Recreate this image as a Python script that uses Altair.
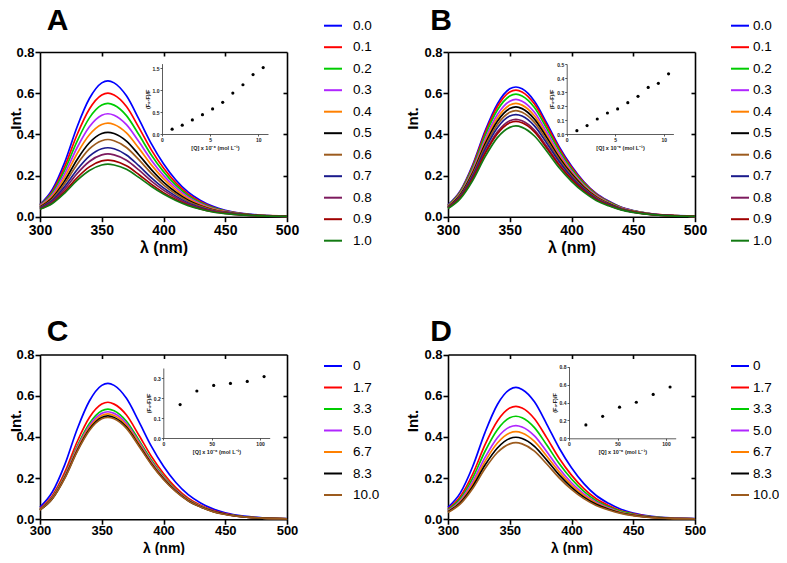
import altair as alt
import pandas as pd

# ---------------- data ----------------
WL = [300, 310, 320, 330, 340, 350, 355, 360, 370, 380, 390, 400, 410, 420, 430, 440, 450, 465, 480, 500]

AB_LABELS = ["0.0", "0.1", "0.2", "0.3", "0.4", "0.5", "0.6", "0.7", "0.8", "0.9", "1.0"]
CD_LABELS = ["0", "1.7", "3.3", "5.0", "6.7", "8.3", "10.0"]

COLORS = ["#0000FF", "#FF0000", "#00CC00", "#B026FF", "#FF8000", "#000000",
          "#9C5B1E", "#1A1A8C", "#7D1A5E", "#A00000", "#127A12"]

A_SPECTRA = [
    [.059, .132, .264, .436, .574, .650, .660, .650, .587, .475, .356, .257, .178, .119, .079, .050, .031, .015, .007, .003],
    [.057, .123, .243, .398, .523, .591, .600, .591, .535, .434, .326, .236, .164, .110, .073, .046, .029, .014, .006, .003],
    [.055, .116, .226, .366, .480, .542, .550, .542, .491, .399, .301, .219, .153, .102, .068, .043, .027, .013, .006, .002],
    [.053, .108, .208, .335, .437, .493, .500, .493, .447, .365, .276, .201, .141, .095, .063, .040, .026, .012, .006, .002],
    [.050, .100, .191, .306, .398, .448, .455, .448, .407, .333, .253, .185, .130, .087, .058, .037, .024, .011, .005, .002],
    [.047, .092, .174, .277, .359, .404, .410, .404, .367, .301, .230, .168, .119, .080, .053, .034, .022, .011, .005, .002],
    [.045, .086, .161, .254, .329, .369, .375, .369, .336, .277, .212, .155, .110, .074, .050, .032, .021, .010, .005, .002],
    [.042, .079, .146, .228, .294, .330, .335, .330, .300, .248, .190, .140, .100, .067, .045, .029, .019, .009, .004, .002],
    [.040, .073, .134, .209, .268, .300, .305, .300, .274, .227, .174, .129, .092, .062, .041, .027, .018, .009, .004, .002],
    [.037, .067, .122, .189, .242, .271, .275, .271, .247, .205, .158, .117, .084, .057, .038, .024, .016, .008, .004, .002],
    [.036, .064, .115, .176, .224, .251, .255, .251, .230, .191, .148, .110, .079, .054, .036, .023, .015, .008, .004, .002],
]

B_SPECTRA = [
    [.057, .126, .252, .416, .548, .621, .630, .621, .561, .454, .340, .246, .170, .113, .076, .047, .030, .014, .006, .003],
    [.055, .123, .246, .406, .535, .606, .615, .606, .547, .443, .332, .240, .166, .111, .074, .046, .029, .014, .006, .002],
    [.054, .119, .238, .393, .518, .586, .595, .586, .530, .428, .321, .232, .161, .107, .071, .045, .028, .013, .006, .002],
    [.051, .114, .228, .376, .496, .561, .570, .561, .507, .410, .308, .222, .154, .103, .068, .043, .027, .013, .006, .002],
    [.050, .110, .220, .363, .479, .542, .550, .542, .490, .396, .297, .215, .149, .099, .066, .041, .026, .012, .006, .002],
    [.048, .107, .213, .352, .464, .525, .533, .525, .474, .384, .288, .208, .144, .096, .064, .040, .025, .012, .005, .002],
    [.046, .103, .206, .340, .448, .507, .515, .507, .458, .371, .278, .201, .139, .093, .062, .039, .024, .011, .005, .002],
    [.045, .099, .198, .327, .432, .489, .496, .489, .441, .357, .268, .193, .134, .089, .060, .037, .023, .011, .005, .002],
    [.043, .095, .189, .312, .412, .466, .473, .466, .421, .341, .255, .184, .128, .085, .057, .035, .022, .010, .005, .002],
    [.042, .093, .185, .306, .403, .456, .463, .456, .412, .333, .250, .181, .125, .083, .056, .035, .022, .010, .005, .002],
    [.040, .088, .176, .291, .384, .434, .441, .434, .392, .318, .238, .172, .119, .079, .053, .033, .021, .010, .004, .002],
]

C_SPECTRA = [
    [.059, .132, .264, .436, .574, .650, .660, .650, .587, .475, .356, .257, .178, .119, .079, .050, .031, .015, .007, .003],
    [.051, .114, .227, .375, .494, .559, .568, .559, .506, .409, .307, .222, .153, .102, .068, .043, .027, .012, .006, .002],
    [.048, .107, .214, .353, .465, .527, .535, .527, .476, .385, .289, .209, .144, .096, .064, .040, .025, .012, .005, .002],
    [.047, .104, .209, .345, .454, .514, .522, .514, .465, .376, .282, .204, .141, .094, .063, .039, .025, .011, .005, .002],
    [.046, .102, .205, .338, .445, .504, .512, .504, .456, .369, .276, .200, .138, .092, .061, .038, .024, .011, .005, .002],
    [.045, .100, .201, .331, .437, .494, .502, .494, .447, .361, .271, .196, .136, .090, .060, .038, .024, .011, .005, .002],
    [.045, .099, .198, .327, .431, .488, .495, .488, .441, .356, .267, .193, .134, .089, .059, .037, .023, .011, .005, .002],
]

D_SPECTRA = [
    [.058, .128, .256, .422, .557, .630, .640, .630, .570, .461, .346, .250, .173, .115, .077, .048, .030, .014, .006, .003],
    [.049, .110, .219, .362, .477, .540, .548, .540, .488, .395, .296, .214, .148, .099, .066, .041, .026, .012, .005, .002],
    [.045, .100, .200, .330, .435, .493, .500, .493, .445, .360, .270, .195, .135, .090, .060, .038, .024, .011, .005, .002],
    [.041, .091, .182, .300, .396, .448, .455, .448, .405, .328, .246, .177, .123, .082, .055, .034, .021, .010, .005, .002],
    [.038, .085, .170, .281, .370, .419, .425, .419, .378, .306, .230, .166, .115, .077, .051, .032, .020, .009, .004, .002],
    [.036, .080, .159, .263, .346, .392, .398, .392, .354, .287, .215, .155, .107, .072, .048, .030, .019, .009, .004, .002],
    [.033, .074, .149, .246, .324, .366, .372, .366, .331, .268, .201, .145, .100, .067, .045, .028, .017, .008, .004, .002],
]

# Stern-Volmer insets
AB_Q = [1.05, 2.1, 3.15, 4.2, 5.25, 6.3, 7.35, 8.4, 9.45, 10.5]
A_R = [0.11, 0.20, 0.32, 0.44, 0.57, 0.72, 0.93, 1.12, 1.35, 1.51]
B_R = [0.024, 0.06, 0.107, 0.15, 0.179, 0.224, 0.269, 0.333, 0.362, 0.43]
CD_Q = [17.4, 34.7, 52.1, 69.4, 86.8, 104.2]
C_R = [0.167, 0.235, 0.263, 0.273, 0.283, 0.307]
D_R = [0.15, 0.245, 0.348, 0.403, 0.49, 0.573]

# ---------------- layout ----------------
W, H = 771, 547
FONT = "Liberation Sans"


def spectra_df(spectra, labels):
    rows = []
    for k, (lab, vals) in enumerate(zip(labels, spectra)):
        for w, v in zip(WL, vals):
            rows.append({"wl": w, "v": v, "s": lab, "k": k})
    return pd.DataFrame(rows)


MAIN_AX = dict(domainColor="black", domainWidth=1.6, tickColor="black", tickWidth=1.6,
               labelFont=FONT, labelFontWeight="bold", labelColor="black",
               titleFont=FONT, titleFontWeight="bold", titleColor="black",
               grid=False, labelOverlap=False)

INS_AX = dict(domainColor="#333333", domainWidth=0.8, tickColor="#333333", tickWidth=0.8, tickSize=2,
              labelFont=FONT, labelFontSize=5, labelFontWeight="bold", labelColor="#222222", labelPadding=1,
              titleFont=FONT, titleFontSize=5.5, titleFontWeight="bold", titleColor="#222222",
              grid=False, labelOverlap=False, labelFlush=False)


def panel(spectra, labels, box, leg, loff, ytx, xty, xtfs, xlfs, xlpad,
          q, r, ibox, ixdom, iydom, ixt, iyt, iyfmt):
    x0, x1, y0, y1 = box
    df = spectra_df(spectra, labels)
    xs = alt.Scale(domain=[300, 500], range=[x0, x1], nice=False, zero=False)
    ys = alt.Scale(domain=[0, 0.8], range=[y1, y0], nice=False, zero=False)
    lines = alt.Chart(df).mark_line(strokeWidth=1.7, interpolate="monotone").encode(
        x=alt.X("wl:Q", scale=xs,
                axis=alt.Axis(orient="bottom", offset=y1 - H, values=[300, 350, 400, 450, 500],
                              title="λ (nm)", titleFontSize=xtfs, titleBaseline="alphabetic", titleY=xty,
                              labelFontSize=xlfs, labelPadding=xlpad,
                              tickSize=5, labelFlush=False, **MAIN_AX)),
        y=alt.Y("v:Q", scale=ys,
                axis=alt.Axis(orient="left", offset=-x0, values=[0, 0.2, 0.4, 0.6, 0.8], format=".1f",
                              title="Int.", titleFontSize=15, labelFontSize=13, labelPadding=1, tickSize=5,
                              titleX=ytx, titleY=y0 + 66, **MAIN_AX)),
        color=alt.Color("s:N", scale=alt.Scale(domain=labels, range=COLORS[:len(labels)]),
                        legend=alt.Legend(orient="none", legendX=leg[0], legendY=leg[1], title="",
                                          symbolType="stroke", symbolSize=324, symbolStrokeWidth=2,
                                          labelFont=FONT, labelFontSize=13.5, labelColor="black",
                                          labelOffset=loff, rowPadding=4.5, padding=0)),
        detail="k:N",
    )
    frame = alt.Chart(df).mark_point(opacity=0).encode(
        x=alt.X("wl:Q", scale=xs,
                axis=alt.Axis(orient="bottom", offset=y0 - H, values=[350, 400, 450], labels=False,
                              title="", tickSize=4, domainColor="black", domainWidth=1.6,
                              tickColor="black", tickWidth=1.6, grid=False)),
        y=alt.Y("v:Q", scale=ys,
                axis=alt.Axis(orient="left", offset=-x1, values=[0.2, 0.4, 0.6], labels=False,
                              title="", tickSize=4, domainColor="black", domainWidth=1.6,
                              tickColor="black", tickWidth=1.6, grid=False)),
    )
    ix0, ix1, iy0, iy1 = ibox
    idf = pd.DataFrame({"q": q, "r": r})
    inset = alt.Chart(idf).mark_circle(size=10, color="black", opacity=1).encode(
        x=alt.X("q:Q", scale=alt.Scale(domain=ixdom, range=[ix0, ix1], nice=False, zero=False),
                axis=alt.Axis(orient="bottom", offset=iy1 - H, values=ixt,
                              title="[Q] x 10⁻⁶ (mol L⁻¹)", titlePadding=3, **INS_AX)),
        y=alt.Y("r:Q", scale=alt.Scale(domain=iydom, range=[iy1, iy0], nice=False, zero=False),
                axis=alt.Axis(orient="left", offset=-ix0, values=iyt, format=iyfmt,
                              title="(F₀-F)/F", titlePadding=2, **INS_AX)),
    )
    return [lines, frame, inset]


def letter(t, x, y):
    return alt.Chart(pd.DataFrame({"t": [t]})).mark_text(
        font=FONT, fontSize=30, fontWeight="bold", align="center", baseline="alphabetic", color="black"
    ).encode(text="t:N", x=alt.value(x), y=alt.value(y))


layers = []
layers += panel(A_SPECTRA, AB_LABELS, (32, 279, 44, 208.7), (315, 7.7), 10, -17, 36, 16, 14, 2,
                AB_Q, A_R, (154, 260, 55.6, 126), [0, 11], [0, 1.6], [0, 5, 10], [0, 0.5, 1.0, 1.5], ".1f")
layers += panel(B_SPECTRA, AB_LABELS, (440, 687, 44, 208.7), (722, 7.7), 3, -28, 36, 16, 14, 2,
                AB_Q, B_R, (558.7, 665.4, 56, 126), [0, 11], [0, 0.5], [0, 5, 10],
                [0, 0.1, 0.2, 0.3, 0.4, 0.5], ".1f")
layers += panel(C_SPECTRA, CD_LABELS, (32, 279, 346.5, 511.2), (315, 348), 10, -17, 32.8, 14, 13, 0.5,
                CD_Q, C_R, (155.3, 261.7, 360, 430), [0, 110], [0, 0.35], [0, 50, 100],
                [0, 0.1, 0.2, 0.3], ".1f")
layers += panel(D_SPECTRA, CD_LABELS, (440, 687, 346.5, 511.2), (722, 348), 3, -28, 32.8, 14, 13, 0.5,
                CD_Q, D_R, (561, 667.7, 358.7, 430.3), [0, 110], [0, 0.8], [0, 50, 100],
                [0, 0.2, 0.4, 0.6, 0.8], ".1f")
layers += [letter("A", 49.5, 22), letter("B", 433, 22),
           letter("C", 49.5, 333), letter("D", 433, 333)]

chart = alt.layer(*layers).resolve_scale(
    x="independent", y="independent", color="independent"
).properties(
    width=W, height=H, padding=0, autosize=alt.AutoSizeParams(type="none")
).configure_view(strokeOpacity=0)

chart.save("out.html", embed_options={"renderer": "svg", "actions": False})
